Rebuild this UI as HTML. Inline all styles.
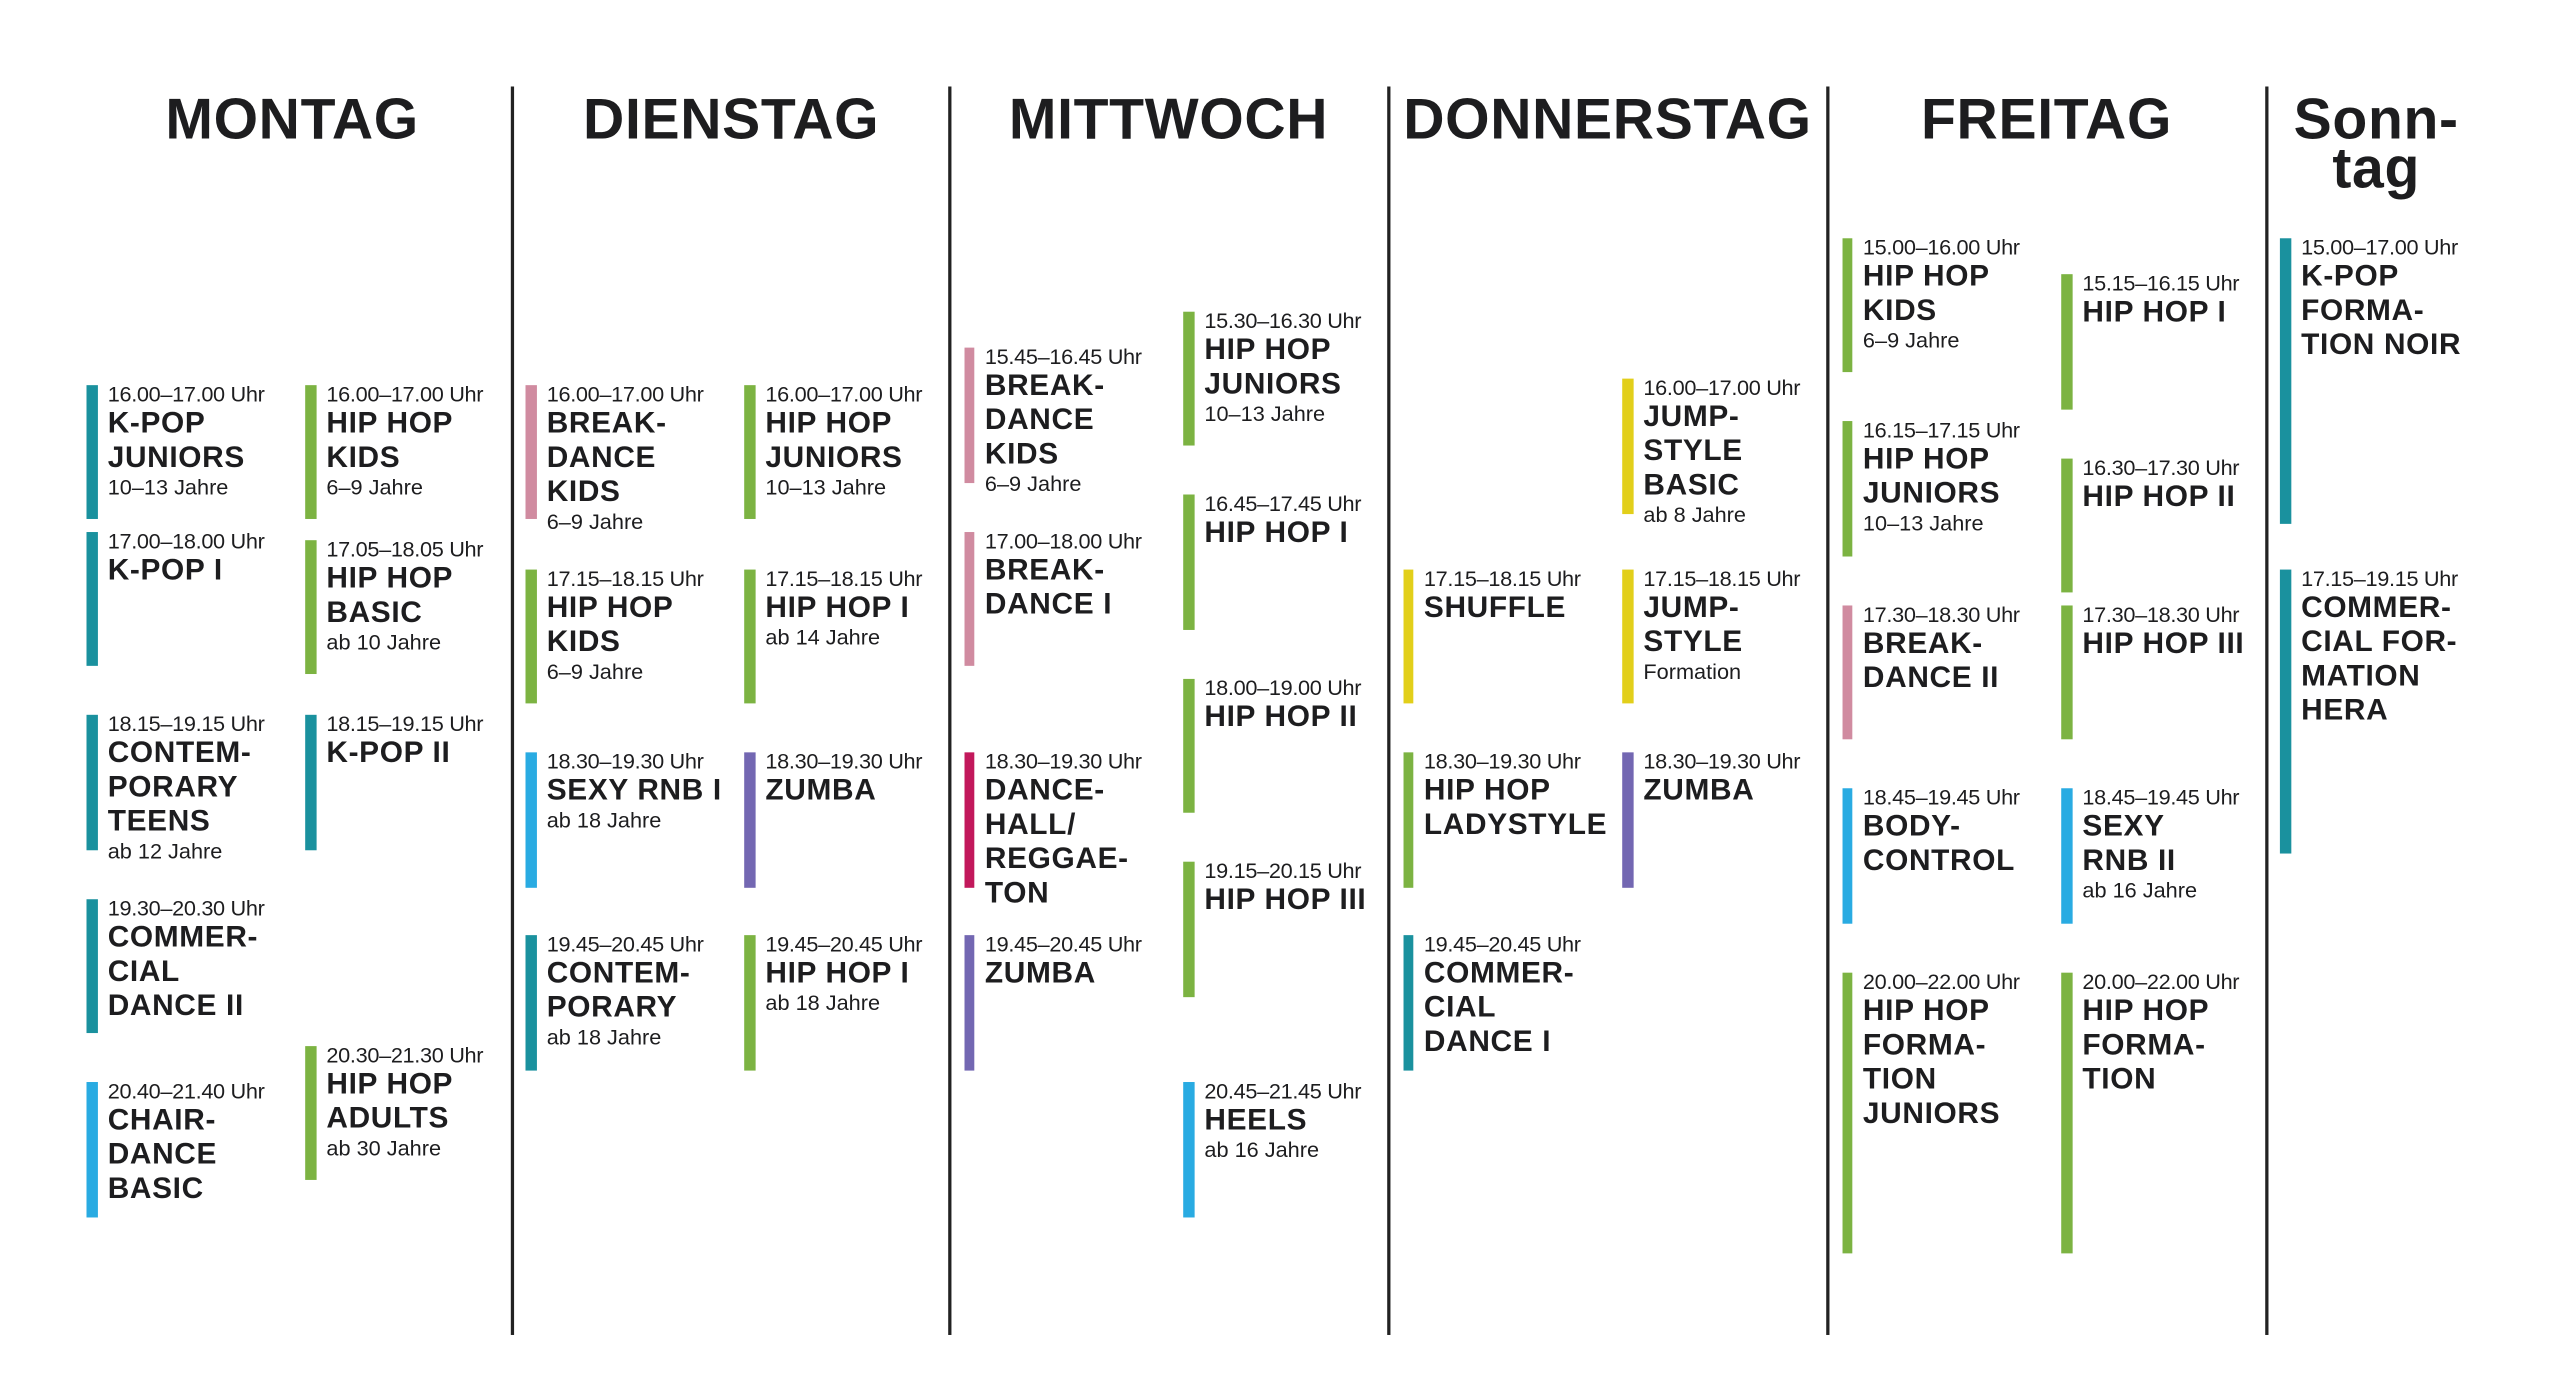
<!DOCTYPE html>
<html><head><meta charset="utf-8"><style>
html,body{margin:0;padding:0;background:#fff;}
body{width:2560px;height:1397px;overflow:hidden;position:relative;}
#w{position:absolute;left:0;top:0;width:1569px;height:856px;transform:scale(1.632);transform-origin:0 0;font-family:"Liberation Sans",sans-serif;color:#1d1d1f;}
.d{position:absolute;top:53px;width:2.4px;height:765px;background:#222;}
.h{position:absolute;top:59px;width:260px;margin-left:-130px;text-align:center;font-weight:bold;font-size:35px;line-height:30px;letter-spacing:0.4px;}
.b{position:absolute;width:6.5px;}
.t{position:absolute;white-space:nowrap;}
.t .tm{font-size:13.3px;line-height:12px;letter-spacing:-0.2px;}
.t .ti{font-size:18.3px;font-weight:bold;line-height:21px;letter-spacing:0.4px;}
.t .ag{font-size:13.3px;line-height:17px;}
</style></head><body><div id="w">
<div class="d" style="left:313px"></div>
<div class="d" style="left:581px"></div>
<div class="d" style="left:850px"></div>
<div class="d" style="left:1119px"></div>
<div class="d" style="left:1388px"></div>
<div class="h" style="left:179px">MONTAG</div>
<div class="h" style="left:448px">DIENSTAG</div>
<div class="h" style="left:716px">MITTWOCH</div>
<div class="h" style="left:985px">DONNERSTAG</div>
<div class="h" style="left:1254px">FREITAG</div>
<div class="h" style="left:1456px">Sonn-<br>tag</div>

<!-- Montag -->
<div class="b" style="left:53px;top:236px;height:82px;background:#1a919e"></div><div class="t" style="left:66px;top:236px"><div class="tm">16.00–17.00 Uhr</div><div class="ti">K-POP<br>JUNIORS</div><div class="ag">10–13 Jahre</div></div>
<div class="b" style="left:53px;top:326px;height:82px;background:#1a919e"></div><div class="t" style="left:66px;top:326px"><div class="tm">17.00–18.00 Uhr</div><div class="ti">K-POP I</div></div>
<div class="b" style="left:53px;top:438px;height:83px;background:#1a919e"></div><div class="t" style="left:66px;top:438px"><div class="tm">18.15–19.15 Uhr</div><div class="ti">CONTEM-<br>PORARY<br>TEENS</div><div class="ag">ab 12 Jahre</div></div>
<div class="b" style="left:53px;top:551px;height:82px;background:#1a919e"></div><div class="t" style="left:66px;top:551px"><div class="tm">19.30–20.30 Uhr</div><div class="ti">COMMER-<br>CIAL<br>DANCE II</div></div>
<div class="b" style="left:53px;top:663px;height:83px;background:#29abe2"></div><div class="t" style="left:66px;top:663px"><div class="tm">20.40–21.40 Uhr</div><div class="ti">CHAIR-<br>DANCE<br>BASIC</div></div>
<div class="b" style="left:187px;top:236px;height:82px;background:#7cb342"></div><div class="t" style="left:200px;top:236px"><div class="tm">16.00–17.00 Uhr</div><div class="ti">HIP HOP<br>KIDS</div><div class="ag">6–9 Jahre</div></div>
<div class="b" style="left:187px;top:331px;height:82px;background:#7cb342"></div><div class="t" style="left:200px;top:331px"><div class="tm">17.05–18.05 Uhr</div><div class="ti">HIP HOP<br>BASIC</div><div class="ag">ab 10 Jahre</div></div>
<div class="b" style="left:187px;top:438px;height:83px;background:#1a919e"></div><div class="t" style="left:200px;top:438px"><div class="tm">18.15–19.15 Uhr</div><div class="ti">K-POP II</div></div>
<div class="b" style="left:187px;top:641px;height:82px;background:#7cb342"></div><div class="t" style="left:200px;top:641px"><div class="tm">20.30–21.30 Uhr</div><div class="ti">HIP HOP<br>ADULTS</div><div class="ag">ab 30 Jahre</div></div>

<!-- Dienstag -->
<div class="b" style="left:322px;top:236px;height:82px;background:#d08ba0"></div><div class="t" style="left:335px;top:236px"><div class="tm">16.00–17.00 Uhr</div><div class="ti">BREAK-<br>DANCE<br>KIDS</div><div class="ag">6–9 Jahre</div></div>
<div class="b" style="left:322px;top:349px;height:82px;background:#7cb342"></div><div class="t" style="left:335px;top:349px"><div class="tm">17.15–18.15 Uhr</div><div class="ti">HIP HOP<br>KIDS</div><div class="ag">6–9 Jahre</div></div>
<div class="b" style="left:322px;top:461px;height:83px;background:#29abe2"></div><div class="t" style="left:335px;top:461px"><div class="tm">18.30–19.30 Uhr</div><div class="ti">SEXY RNB I</div><div class="ag">ab 18 Jahre</div></div>
<div class="b" style="left:322px;top:573px;height:83px;background:#1a919e"></div><div class="t" style="left:335px;top:573px"><div class="tm">19.45–20.45 Uhr</div><div class="ti">CONTEM-<br>PORARY</div><div class="ag">ab 18 Jahre</div></div>
<div class="b" style="left:456px;top:236px;height:82px;background:#7cb342"></div><div class="t" style="left:469px;top:236px"><div class="tm">16.00–17.00 Uhr</div><div class="ti">HIP HOP<br>JUNIORS</div><div class="ag">10–13 Jahre</div></div>
<div class="b" style="left:456px;top:349px;height:82px;background:#7cb342"></div><div class="t" style="left:469px;top:349px"><div class="tm">17.15–18.15 Uhr</div><div class="ti">HIP HOP I</div><div class="ag">ab 14 Jahre</div></div>
<div class="b" style="left:456px;top:461px;height:83px;background:#7367b2"></div><div class="t" style="left:469px;top:461px"><div class="tm">18.30–19.30 Uhr</div><div class="ti">ZUMBA</div></div>
<div class="b" style="left:456px;top:573px;height:83px;background:#7cb342"></div><div class="t" style="left:469px;top:573px"><div class="tm">19.45–20.45 Uhr</div><div class="ti">HIP HOP I</div><div class="ag">ab 18 Jahre</div></div>

<!-- Mittwoch -->
<div class="b" style="left:590.7px;top:213px;height:83px;background:#d08ba0"></div><div class="t" style="left:603.5px;top:213px"><div class="tm">15.45–16.45 Uhr</div><div class="ti">BREAK-<br>DANCE<br>KIDS</div><div class="ag">6–9 Jahre</div></div>
<div class="b" style="left:590.7px;top:326px;height:82px;background:#d08ba0"></div><div class="t" style="left:603.5px;top:326px"><div class="tm">17.00–18.00 Uhr</div><div class="ti">BREAK-<br>DANCE I</div></div>
<div class="b" style="left:590.7px;top:461px;height:83px;background:#c2185b"></div><div class="t" style="left:603.5px;top:461px"><div class="tm">18.30–19.30 Uhr</div><div class="ti">DANCE-<br>HALL/<br>REGGAE-<br>TON</div></div>
<div class="b" style="left:590.7px;top:573px;height:83px;background:#7367b2"></div><div class="t" style="left:603.5px;top:573px"><div class="tm">19.45–20.45 Uhr</div><div class="ti">ZUMBA</div></div>
<div class="b" style="left:725px;top:191px;height:82px;background:#7cb342"></div><div class="t" style="left:738px;top:191px"><div class="tm">15.30–16.30 Uhr</div><div class="ti">HIP HOP<br>JUNIORS</div><div class="ag">10–13 Jahre</div></div>
<div class="b" style="left:725px;top:303px;height:83px;background:#7cb342"></div><div class="t" style="left:738px;top:303px"><div class="tm">16.45–17.45 Uhr</div><div class="ti">HIP HOP I</div></div>
<div class="b" style="left:725px;top:416px;height:82px;background:#7cb342"></div><div class="t" style="left:738px;top:416px"><div class="tm">18.00–19.00 Uhr</div><div class="ti">HIP HOP II</div></div>
<div class="b" style="left:725px;top:528px;height:83px;background:#7cb342"></div><div class="t" style="left:738px;top:528px"><div class="tm">19.15–20.15 Uhr</div><div class="ti">HIP HOP III</div></div>
<div class="b" style="left:725px;top:663px;height:83px;background:#29abe2"></div><div class="t" style="left:738px;top:663px"><div class="tm">20.45–21.45 Uhr</div><div class="ti">HEELS</div><div class="ag">ab 16 Jahre</div></div>

<!-- Donnerstag -->
<div class="b" style="left:859.5px;top:349px;height:82px;background:#e2cf1a"></div><div class="t" style="left:872.5px;top:349px"><div class="tm">17.15–18.15 Uhr</div><div class="ti">SHUFFLE</div></div>
<div class="b" style="left:859.5px;top:461px;height:83px;background:#7cb342"></div><div class="t" style="left:872.5px;top:461px"><div class="tm">18.30–19.30 Uhr</div><div class="ti">HIP HOP<br>LADYSTYLE</div></div>
<div class="b" style="left:859.5px;top:573px;height:83px;background:#1a919e"></div><div class="t" style="left:872.5px;top:573px"><div class="tm">19.45–20.45 Uhr</div><div class="ti">COMMER-<br>CIAL<br>DANCE I</div></div>
<div class="b" style="left:994px;top:232px;height:83px;background:#e2cf1a"></div><div class="t" style="left:1007px;top:232px"><div class="tm">16.00–17.00 Uhr</div><div class="ti">JUMP-<br>STYLE<br>BASIC</div><div class="ag">ab 8 Jahre</div></div>
<div class="b" style="left:994px;top:349px;height:82px;background:#e2cf1a"></div><div class="t" style="left:1007px;top:349px"><div class="tm">17.15–18.15 Uhr</div><div class="ti">JUMP-<br>STYLE</div><div class="ag">Formation</div></div>
<div class="b" style="left:994px;top:461px;height:83px;background:#7367b2"></div><div class="t" style="left:1007px;top:461px"><div class="tm">18.30–19.30 Uhr</div><div class="ti">ZUMBA</div></div>

<!-- Freitag -->
<div class="b" style="left:1128.5px;top:146px;height:82px;background:#7cb342"></div><div class="t" style="left:1141.5px;top:146px"><div class="tm">15.00–16.00 Uhr</div><div class="ti">HIP HOP<br>KIDS</div><div class="ag">6–9 Jahre</div></div>
<div class="b" style="left:1128.5px;top:258px;height:83px;background:#7cb342"></div><div class="t" style="left:1141.5px;top:258px"><div class="tm">16.15–17.15 Uhr</div><div class="ti">HIP HOP<br>JUNIORS</div><div class="ag">10–13 Jahre</div></div>
<div class="b" style="left:1128.5px;top:371px;height:82px;background:#d08ba0"></div><div class="t" style="left:1141.5px;top:371px"><div class="tm">17.30–18.30 Uhr</div><div class="ti">BREAK-<br>DANCE II</div></div>
<div class="b" style="left:1128.5px;top:483px;height:83px;background:#29abe2"></div><div class="t" style="left:1141.5px;top:483px"><div class="tm">18.45–19.45 Uhr</div><div class="ti">BODY-<br>CONTROL</div></div>
<div class="b" style="left:1128.5px;top:596px;height:172px;background:#7cb342"></div><div class="t" style="left:1141.5px;top:596px"><div class="tm">20.00–22.00 Uhr</div><div class="ti">HIP HOP<br>FORMA-<br>TION<br>JUNIORS</div></div>
<div class="b" style="left:1263px;top:168px;height:83px;background:#7cb342"></div><div class="t" style="left:1276px;top:168px"><div class="tm">15.15–16.15 Uhr</div><div class="ti">HIP HOP I</div></div>
<div class="b" style="left:1263px;top:281px;height:82px;background:#7cb342"></div><div class="t" style="left:1276px;top:281px"><div class="tm">16.30–17.30 Uhr</div><div class="ti">HIP HOP II</div></div>
<div class="b" style="left:1263px;top:371px;height:82px;background:#7cb342"></div><div class="t" style="left:1276px;top:371px"><div class="tm">17.30–18.30 Uhr</div><div class="ti">HIP HOP III</div></div>
<div class="b" style="left:1263px;top:483px;height:83px;background:#29abe2"></div><div class="t" style="left:1276px;top:483px"><div class="tm">18.45–19.45 Uhr</div><div class="ti">SEXY<br>RNB II</div><div class="ag">ab 16 Jahre</div></div>
<div class="b" style="left:1263px;top:596px;height:172px;background:#7cb342"></div><div class="t" style="left:1276px;top:596px"><div class="tm">20.00–22.00 Uhr</div><div class="ti">HIP HOP<br>FORMA-<br>TION</div></div>

<!-- Sonntag -->
<div class="b" style="left:1397px;top:146px;height:175px;background:#1a919e"></div><div class="t" style="left:1410px;top:146px"><div class="tm">15.00–17.00 Uhr</div><div class="ti">K-POP<br>FORMA-<br>TION NOIR</div></div>
<div class="b" style="left:1397px;top:349px;height:174px;background:#1a919e"></div><div class="t" style="left:1410px;top:349px"><div class="tm">17.15–19.15 Uhr</div><div class="ti">COMMER-<br>CIAL FOR-<br>MATION<br>HERA</div></div>
</div></body></html>
